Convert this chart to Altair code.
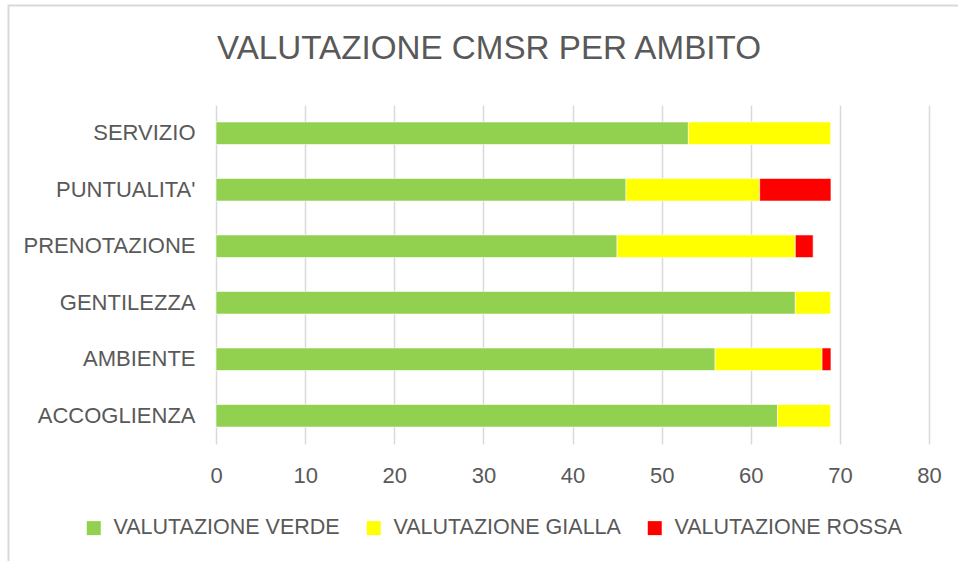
import altair as alt
import pandas as pd

categories = ["SERVIZIO", "PUNTUALITA'", "PRENOTAZIONE", "GENTILEZZA", "AMBIENTE", "ACCOGLIENZA"]
verde = [53, 46, 45, 65, 56, 63]
gialla = [16, 15, 20, 4, 12, 6]
rossa = [0, 8, 2, 0, 1, 0]
series = ["VALUTAZIONE VERDE", "VALUTAZIONE GIALLA", "VALUTAZIONE ROSSA"]
colors = ["#92D050", "#FFFF00", "#FF0000"]
title_text = "VALUTAZIONE CMSR PER AMBITO"

rows = []
for i, c in enumerate(categories):
    for k, (s, vals) in enumerate(zip(series, [verde, gialla, rossa])):
        rows.append({"ambito": c, "serie": s, "valore": vals[i], "ordine": k})
df = pd.DataFrame(rows)

W, H = 713, 339
PL, PT = 216, 105
FONT = "Liberation Sans"
TXT = "#595959"

bars = alt.Chart(df).mark_bar(stroke="white", strokeWidth=0.6).encode(
    y=alt.Y("ambito:N", sort=categories, title=None,
            scale=alt.Scale(paddingInner=0.6, paddingOuter=0.3),
            axis=alt.Axis(labelFont=FONT, labelFontSize=22, labelColor=TXT,
                          ticks=False, domain=False, labelPadding=21, grid=False,
                          labelLimit=0)),
    x=alt.X("valore:Q", stack="zero", title=None,
            scale=alt.Scale(domain=[0, 80], nice=False),
            axis=alt.Axis(values=list(range(0, 81, 10)), labelFont=FONT, labelFontSize=22,
                          labelColor=TXT, ticks=False, domain=False, labelPadding=21,
                          labelFlush=False,
                          grid=True, gridColor="#D9D9D9", gridWidth=1.5)),
    color=alt.Color("serie:N", sort=series,
                    scale=alt.Scale(domain=series, range=colors),
                    legend=alt.Legend(title=None, orient="none", direction="horizontal",
                                      legendX=-133, legendY=412, symbolType="square",
                                      symbolSize=196, symbolStrokeWidth=0,
                                      labelFont=FONT, labelFontSize=21.5, labelColor=TXT,
                                      labelLimit=0, columnPadding=23, labelOffset=9)),
    order=alt.Order("ordine:Q"),
)

frame = alt.Chart(pd.DataFrame({"a": [0]})).mark_rect(
    fill=None, stroke="#D9D9D9", strokeWidth=2, clip=False
).encode(
    x=alt.value(8.5 - PL), x2=alt.value(1100), y=alt.value(5.5 - PT), y2=alt.value(700)
)

title = alt.Chart(pd.DataFrame({"t": [title_text]})).mark_text(
    font=FONT, fontSize=33.2, color=TXT, align="center", baseline="middle", clip=False
).encode(text="t:N", x=alt.value(489 - PL), y=alt.value(49 - PT))

chart = alt.layer(frame, bars, title).properties(
    width=W, height=H,
    background="white",
    autosize=alt.AutoSizeParams(type="none"),
    padding={"left": PL, "top": PT, "right": 958 - PL - W, "bottom": 561 - PT - H},
).configure_view(stroke=None)

chart.save("out.html", embed_options={"renderer": "svg", "actions": False})
